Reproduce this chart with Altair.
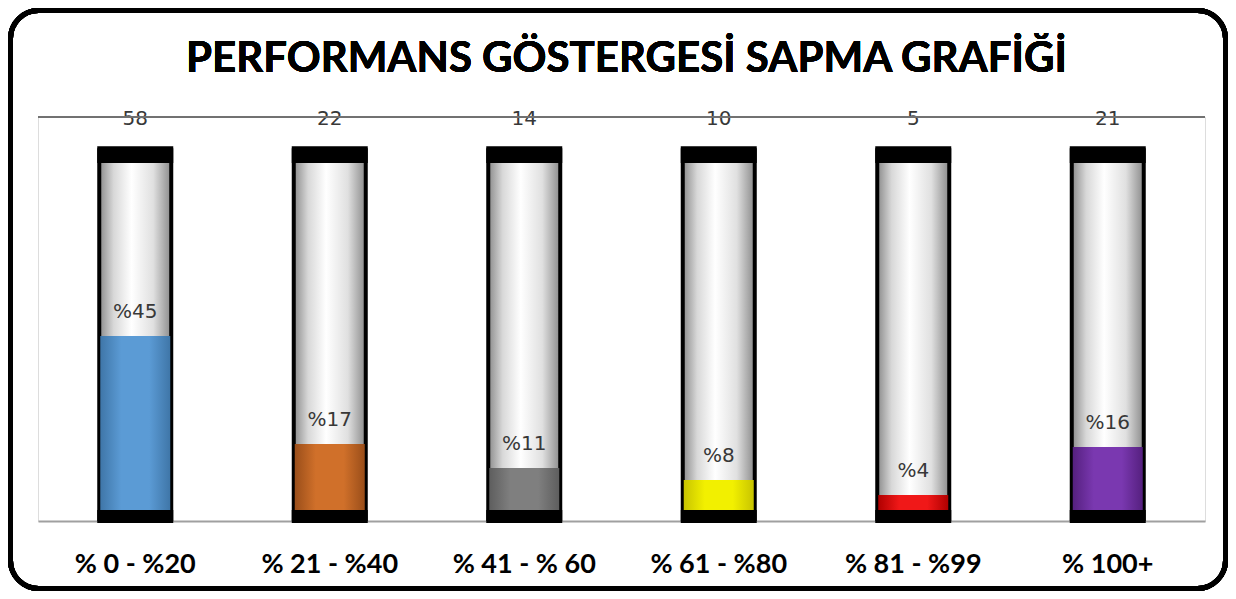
import altair as alt
import pandas as pd

categories = ["% 0 - %20", "% 21 - %40", "% 41 - % 60", "% 61 - %80", "% 81 - %99", "% 100+"]
counts = [58, 22, 14, 10, 5, 21]
pct_labels = ["%45", "%17", "%11", "%8", "%4", "%16"]
fill_colors = ["#5B9BD5", "#D0702A", "#7F7F7F", "#F2F000", "#F01818", "#7A38B0"]
edge_colors = ["#3F76A8", "#9A4E1A", "#5E5E5E", "#C8C400", "#B00000", "#55207F"]

total = sum(counts)
df = pd.DataFrame({
    "cat": categories,
    "count": counts,
    "share": [c / total for c in counts],
    "label": pct_labels,
    "color": fill_colors,
    "edge": edge_colors,
})
df["base"] = -0.028
df["full"] = 0.928
df["captop"] = 0.89

W, H = 1167, 404
xs = alt.X("cat:N", sort=categories, title=None,
           axis=alt.Axis(labelAngle=0, labelFont="Lato", labelFontSize=27, labelFontWeight="bold",
                         labelColor="#000000", ticks=False, labelPadding=30,
                         domainColor="#A0A0A0", domainWidth=2))
ys = alt.Scale(domain=[-0.028, 1.008], nice=False, zero=False)

base = alt.Chart(df)

tube_grad = alt.Gradient(gradient="linear", x1=0, x2=1, y1=0, y2=0, stops=[
    alt.GradientStop(color="#8A8A8A", offset=0),
    alt.GradientStop(color="#D8D8D8", offset=0.2),
    alt.GradientStop(color="#FFFFFF", offset=0.45),
    alt.GradientStop(color="#E0E0E0", offset=0.75),
    alt.GradientStop(color="#8A8A8A", offset=1),
])

tube = base.mark_bar(size=72, fill=tube_grad, stroke="#000000", strokeWidth=4).encode(
    x=xs,
    y=alt.Y("base:Q", scale=ys, axis=None),
    y2="full:Q",
)

fills = []
for i, row in df.iterrows():
    g = alt.Gradient(gradient="linear", x1=0, x2=1, y1=0, y2=0, stops=[
        alt.GradientStop(color=row["edge"], offset=0),
        alt.GradientStop(color=row["color"], offset=0.3),
        alt.GradientStop(color=row["color"], offset=0.5),
        alt.GradientStop(color=row["color"], offset=0.7),
        alt.GradientStop(color=row["edge"], offset=1),
    ])
    fills.append(
        alt.Chart(df.iloc[[i]]).mark_bar(size=70, fill=g).encode(
            x=xs, y=alt.Y("base:Q", scale=ys, axis=None), y2="share:Q"
        )
    )

topcap = base.mark_bar(size=76, color="#000000").encode(
    x=xs, y=alt.Y("captop:Q", scale=ys, axis=None), y2="full:Q"
)
botcap = base.mark_bar(size=76, color="#000000").encode(
    x=xs, y=alt.Y("base:Q", scale=ys, axis=None), y2=alt.datum(0)
)

pct_text = base.mark_text(font="DejaVu Sans", fontSize=20, color="#383838", baseline="bottom", dy=-14).encode(
    x=xs, y=alt.Y("share:Q", scale=ys, axis=None), text="label:N"
)

count_text = base.mark_text(font="DejaVu Sans", fontSize=20, color="#383838", baseline="middle").encode(
    x=xs, y=alt.value(2), text="count:Q"
)

top_rule = base.mark_rule(color="#707070", strokeWidth=1).encode(
    x=alt.value(0), x2=alt.value(W), y=alt.value(0)
)

frame = base.mark_rect(fill=None, stroke="#000000", strokeWidth=5, cornerRadius=28).encode(
    x=alt.value(-27.5), x2=alt.value(1187.5), y=alt.value(-106.5), y2=alt.value(471.5)
)

title_text = base.mark_text(font="Lato", fontSize=42, fontWeight="bold", color="#000000",
                            baseline="middle", align="center").encode(
    x=alt.value(W / 2 + 5), y=alt.value(-58), text=alt.value("PERFORMANS GÖSTERGESİ SAPMA GRAFİĞİ")
)

chart = alt.layer(tube, *fills, topcap, botcap, pct_text, count_text, top_rule, frame, title_text).properties(
    width=W, height=H,
    autosize=alt.AutoSizeParams(type="none"),
    padding={"left": 30, "top": 109, "right": 23, "bottom": 70},
).configure_view(stroke="#D0D0D0", strokeWidth=1).configure(background="#FFFFFF")

chart.save("out.html", embed_options={"renderer": "svg", "actions": False})
